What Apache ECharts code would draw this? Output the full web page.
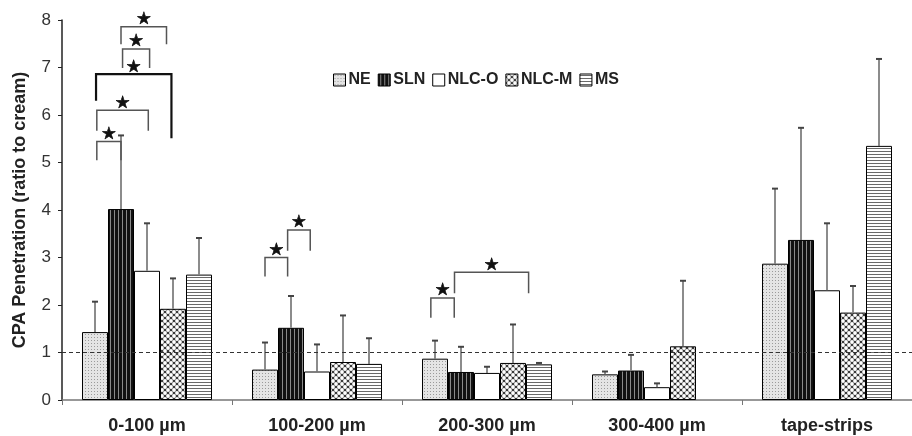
<!DOCTYPE html>
<html>
<head>
<meta charset="utf-8">
<script src="https://cdn.jsdelivr.net/npm/echarts@6/dist/echarts.min.js"></script>
<style>
html,body{margin:0;padding:0;background:#fff;}
#main{width:912px;height:436px;}
</style>
</head>
<body>
<div id="main"></div>
<script>
// ---------- data ----------
const categories = ['0-100 µm', '100-200 µm', '200-300 µm', '300-400 µm', 'tape-strips'];
const seriesNames = ['NE', 'SLN', 'NLC-O', 'NLC-M', 'MS'];
const NE    = [1.43, 0.64, 0.87, 0.54, 2.87];
const SLN   = [4.02, 1.52, 0.59, 0.62, 3.37];
const NLC_O = [2.72, 0.60, 0.57, 0.27, 2.31];
const NLC_M = [1.92, 0.80, 0.78, 1.13, 1.84];
const MS    = [2.64, 0.76, 0.75, null, 5.35];
// upper end of error bars
const NE_err    = [2.07, 1.21, 1.25, 0.60, 4.45];
const SLN_err   = [5.57, 2.19, 1.12, 0.95, 5.73];
const NLC_O_err = [3.72, 1.17, 0.70, 0.35, 3.72];
const NLC_M_err = [2.56, 1.78, 1.59, 2.51, 2.40];
const MS_err    = [3.41, 1.30, 0.78, null, 7.18];
const yTicks = [0, 1, 2, 3, 4, 5, 6, 7, 8];
const referenceLevel = 1;
// significance brackets: [category, fromBar, toBar, lineValue, leftEndValue, rightEndValue, bold]
const sigBrackets = [
  [0, 1.0, 2.75, 7.86, 7.49, 7.49, 0],
  [0, 1.06, 2.1, 7.39, 6.99, 6.99, 0],
  [0, 0.04, 2.94, 6.86, 6.30, 5.51, 1],
  [0, 0.07, 2.05, 6.10, 5.67, 5.67, 0],
  [0, 0.07, 1.0, 5.44, 5.05, 5.05, 0],
  [1, 0.0, 0.87, 3.00, 2.60, 2.60, 0],
  [1, 0.87, 1.74, 3.58, 3.14, 3.14, 0],
  [2, -0.16, 0.74, 2.15, 1.73, 1.73, 0],
  [2, 0.75, 3.6, 2.69, 2.25, 2.25, 0]
];

const values = [NE, SLN, NLC_O, NLC_M, MS];
const errs = [NE_err, SLN_err, NLC_O_err, NLC_M_err, MS_err];

// ---------- patterns ----------
function tile(w, h, draw) {
  const c = document.createElement('canvas');
  c.width = w; c.height = h;
  const ctx = c.getContext('2d');
  draw(ctx);
  return { image: c, repeat: 'repeat' };
}
const patterns = [
  tile(3, 3, ctx => { ctx.fillStyle = '#e4e4e4'; ctx.fillRect(0,0,3,3); ctx.fillStyle = '#9a9a9a'; ctx.fillRect(1,1,1,1); }),
  tile(4, 4, ctx => { ctx.fillStyle = '#111'; ctx.fillRect(0,0,4,4); ctx.fillStyle = '#8a8a8a'; ctx.fillRect(2,0,1,4); }),
  '#ffffff',
  tile(6, 6, ctx => {
    ctx.fillStyle = '#3a3a3a'; ctx.fillRect(0,0,6,6);
    ctx.fillStyle = '#fff';
    [[0,0],[6,0],[0,6],[6,6],[3,3]].forEach(p => { ctx.beginPath(); ctx.arc(p[0], p[1], 1.9, 0, Math.PI*2); ctx.fill(); });
  }),
  tile(3, 3, ctx => { ctx.fillStyle = '#fff'; ctx.fillRect(0,0,3,3); ctx.fillStyle = '#6a6a6a'; ctx.fillRect(0,1,3,1); })
];

const BAR_W = 26;
const FONT = 'Liberation Sans, Arial, sans-serif';
const barSeries = seriesNames.map((name, i) => {
  const s = {
    name: name,
    type: 'bar',
    data: values[i],
    barWidth: BAR_W,
    barGap: '0%',
    itemStyle: { color: patterns[i], borderColor: '#000', borderWidth: 1 },
    emphasis: { disabled: true },
    z: 2
  };
  if (i === 0) {
    s.markLine = {
      silent: true, symbol: 'none', label: { show: false },
      lineStyle: { color: '#333', type: [4, 3], width: 1 },
      data: [{ yAxis: referenceLevel }],
      z: 5
    };
  }
  return s;
});

// error bar data: [category, barIndex, value, upper]
const errData = [];
values.forEach((arr, k) => arr.forEach((v, c) => {
  if (v != null && errs[k][c] != null) errData.push([c, k, v, errs[k][c]]);
}));

const errSeries = {
  type: 'custom',
  silent: true,
  z: 4,
  data: errData,
  encode: { x: 0, y: 3 },
  renderItem: function (params, api) {
    const c = api.value(0), k = api.value(1);
    const p0 = api.coord([c, api.value(2)]);
    const p1 = api.coord([c, api.value(3)]);
    const x = p0[0] + (k - 2) * BAR_W;
    return {
      type: 'group',
      children: [
        { type: 'line', shape: { x1: x, y1: p0[1], x2: x, y2: p1[1] }, style: { stroke: '#666', lineWidth: 1.5 } },
        { type: 'line', shape: { x1: x - 3, y1: p1[1], x2: x + 3, y2: p1[1] }, style: { stroke: '#444', lineWidth: 2 } }
      ]
    };
  }
};

const sigSeries = {
  type: 'custom',
  silent: true,
  z: 6,
  data: sigBrackets,
  encode: { x: 0, y: 3 },
  renderItem: function (params, api) {
    const c = api.value(0);
    const cx = api.coord([c, 0])[0];
    const xl = cx + (api.value(1) - 2) * BAR_W;
    const xr = cx + (api.value(2) - 2) * BAR_W;
    const yl = api.coord([c, api.value(3)])[1];
    const yL = api.coord([c, api.value(4)])[1];
    const yR = api.coord([c, api.value(5)])[1];
    const bold = api.value(6) === 1;
    return {
      type: 'group',
      children: [
        { type: 'polyline', shape: { points: [[xl, yL], [xl, yl], [xr, yl], [xr, yR]] },
          style: { stroke: bold ? '#111' : '#555', lineWidth: bold ? 2.2 : 1.5, fill: null } },
        { type: 'text', style: { text: '★', x: (xl + xr) / 2, y: yl - 7, align: 'center', verticalAlign: 'middle',
          font: '17px "DejaVu Sans"', fill: '#111', stroke: '#111', lineWidth: 0.6 } }
      ]
    };
  }
};

const chart = echarts.init(document.getElementById('main'), null, { renderer: 'canvas' });
chart.setOption({
  backgroundColor: '#fff',
  animation: false,
  grid: { left: 62, top: 20, width: 860, height: 380, containLabel: false },
  legend: {
    data: seriesNames,
    left: 333, top: 72, padding: 0,
    itemWidth: 12, itemHeight: 12, itemGap: 7,
    icon: 'rect',
    itemStyle: { borderColor: '#000', borderWidth: 1 },
    textStyle: { fontFamily: FONT, fontWeight: 'bold', fontSize: 16, color: '#222', padding: [0, 0, 0, -2] },
    selectedMode: false
  },
  xAxis: {
    type: 'category',
    data: categories,
    axisLine: { lineStyle: { color: '#777', width: 1.5 } },
    axisTick: { show: true, length: 5, lineStyle: { color: '#777' } },
    axisLabel: { fontFamily: FONT, fontWeight: 'bold', fontSize: 18, color: '#222', margin: 17 }
  },
  yAxis: {
    type: 'value',
    min: yTicks[0], max: yTicks[yTicks.length - 1], interval: 1,
    name: 'CPA Penetration (ratio to cream)',
    nameLocation: 'middle',
    nameGap: 33,
    nameTextStyle: { fontFamily: FONT, fontWeight: 'bold', fontSize: 18, color: '#222' },
    axisLine: { show: true, lineStyle: { color: '#222', width: 1.5 } },
    axisTick: { show: true, length: 4, lineStyle: { color: '#222' } },
    splitLine: { show: false },
    axisLabel: { fontFamily: FONT, fontSize: 17, color: '#333', margin: 11 }
  },
  series: barSeries.concat([errSeries, sigSeries])
});
</script>
</body>
</html>
